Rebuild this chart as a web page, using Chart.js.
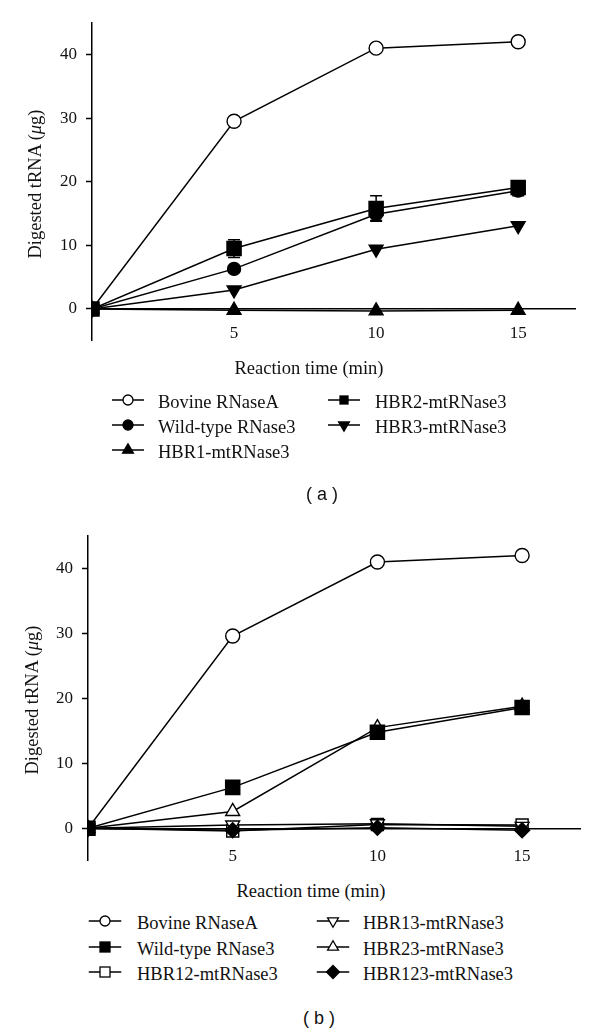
<!DOCTYPE html>
<html><head><meta charset="utf-8">
<script src="https://cdn.jsdelivr.net/npm/chart.js@4"></script>
<style>
body{margin:0;background:#fff;}
#wrap{position:relative;width:600px;height:1034px;overflow:hidden;font-family:"Liberation Serif","DejaVu Serif",serif;color:#111;background:#fff;}
canvas{position:absolute;left:0;}
.t{position:absolute;white-space:nowrap;line-height:1;transform:translate(-50%,-50%);}
.ytitle{transform:translate(-50%,-50%) rotate(-90deg);}
.leg{position:absolute;white-space:nowrap;line-height:1;font-size:18.5px;transform:translateY(-50%);}
.sym{position:absolute;transform:translate(-50%,-50%);}
.cap{font-family:"Liberation Sans","DejaVu Sans",sans-serif;font-size:18px;}
</style></head>
<body><div id="wrap">
<canvas id="ca" width="600" height="360" style="top:0"></canvas>
<canvas id="cb" width="600" height="380" style="top:500px"></canvas>
</div>
<script>
// ---- data ----
const timeMin = [0, 5, 10, 15];
const xTicks = [5, 10, 15];
const yTicks = [0, 10, 20, 30, 40];
const xTitle = 'Reaction time (min)';
const yTitleMain = 'Digested tRNA ';

// panel (a)
const aNames = ['Bovine RNaseA', 'Wild-type RNase3', 'HBR1-mtRNase3', 'HBR2-mtRNase3', 'HBR3-mtRNase3'];
const aBovine   = [0, 29.5, 41.0, 42.0];
const aWildType = [0, 6.3, 14.9, 18.6];
const aWildTypeErr = [0, 0.4, 1.0, 0.8];
const aHBR1     = [0, -0.2, -0.3, -0.2];
const aHBR2     = [0, 9.5, 15.8, 19.1];
const aHBR2Err  = [0, 1.4, 2.0, 0.6];
const aHBR3     = [0, 3.0, 9.4, 13.1];

// panel (b)
const bNames = ['Bovine RNaseA', 'Wild-type RNase3', 'HBR12-mtRNase3', 'HBR13-mtRNase3', 'HBR23-mtRNase3', 'HBR123-mtRNase3'];
const bBovine   = [0, 29.6, 41.0, 42.0];
const bWildType = [0, 6.3, 14.8, 18.6];
const bHBR12    = [0, -0.4, 0.6, 0.5];
const bHBR13    = [0, 0.5, 0.7, 0.3];
const bHBR23    = [0, 2.6, 15.5, 18.8];
const bHBR123   = [0, -0.3, 0.1, -0.3];

Chart.defaults.font.family = "'Liberation Serif', 'DejaVu Serif', serif";
Chart.defaults.color = '#111';

// ---- marker styles ----
const M = {
  openCircle:  {pointStyle:'circle', fill:'#fff', r:7, rot:0},
  fillCircle:  {pointStyle:'circle', fill:'#000', r:6.5, rot:0},
  fillTriUp:   {pointStyle:'triangle', fill:'#000', r:8, rot:0},
  fillTriDown: {pointStyle:'triangle', fill:'#000', r:8, rot:180},
  openTriUp:   {pointStyle:'triangle', fill:'#fff', r:8, rot:0},
  openTriDown: {pointStyle:'triangle', fill:'#fff', r:8, rot:180},
  fillSquare:  {pointStyle:'rect', fill:'#000', r:10, rot:0},
  openSquare:  {pointStyle:'rect', fill:'#fff', r:8.5, rot:0},
  fillDiamond: {pointStyle:'rectRot', fill:'#000', r:7.5, rot:0}
};

function ds(label, values, m, order, errs) {
  return {
    label: label,
    data: timeMin.map((t, i) => ({x: t, y: values[i]})),
    errs: errs || null,
    borderColor: '#000', borderWidth: 1.5,
    pointStyle: m.pointStyle, pointRotation: m.rot, pointRadius: m.r, pointHoverRadius: m.r,
    pointBackgroundColor: m.fill, pointBorderColor: '#000', pointBorderWidth: 1.4,
    fill: false, tension: 0, order: order
  };
}

const errorBars = {
  id: 'errorBars',
  beforeDatasetsDraw(chart) {
    const ctx = chart.ctx, ys = chart.scales.y;
    ctx.save(); ctx.strokeStyle = '#000'; ctx.lineWidth = 1.5;
    chart.data.datasets.forEach((d, di) => {
      if (!d.errs) return;
      const meta = chart.getDatasetMeta(di);
      meta.data.forEach((p, i) => {
        const e = d.errs[i]; if (!e) return;
        const v = d.data[i].y;
        const y1 = ys.getPixelForValue(v + e), y2 = ys.getPixelForValue(v - e);
        ctx.beginPath();
        ctx.moveTo(p.x, y1); ctx.lineTo(p.x, y2);
        ctx.moveTo(p.x - 6, y1); ctx.lineTo(p.x + 6, y1);
        ctx.moveTo(p.x - 6, y2); ctx.lineTo(p.x + 6, y2);
        ctx.stroke();
      });
    });
    ctx.restore();
  }
};

const tickFont = {family: "'Liberation Serif', 'DejaVu Serif', serif", size: 17};

function makeChart(id, datasets, g) {
  return new Chart(document.getElementById(id), {
    type: 'line',
    data: {datasets: datasets},
    plugins: [errorBars],
    options: {
      responsive: false, animation: false, events: [],
      layout: {padding: {top: g.padTop, right: g.padRight, bottom: g.padBottom, left: 0}},
      plugins: {legend: {display: false}, tooltip: {enabled: false}},
      scales: {
        x: {
          type: 'linear', min: 0, max: 17, position: {y: 0},
          afterBuildTicks: s => { s.ticks = xTicks.map(v => ({value: v})); },
          afterFit: s => { s.height = 0; },
          grid: {display: false, drawTicks: false},
          border: {display: true, color: '#000', width: 1.5},
          ticks: {color: '#111', padding: g.xPad, maxRotation: 0, autoSkip: false, font: tickFont}
        },
        y: {
          type: 'linear', min: -5, max: 45,
          afterBuildTicks: s => { s.ticks = yTicks.map(v => ({value: v})); },
          afterFit: s => { s.width = g.yWidth; },
          grid: {display: true, drawOnChartArea: false, drawTicks: true, tickLength: 6, tickWidth: 1.5, tickColor: '#000'},
          border: {display: true, color: '#000', width: 1.5},
          ticks: {color: '#111', padding: 9, font: tickFont}
        }
      }
    }
  });
}

makeChart('ca', [
  ds(aNames[3], aHBR2, M.fillSquare, 0, aHBR2Err),
  ds(aNames[1], aWildType, M.fillCircle, 1, aWildTypeErr),
  ds(aNames[4], aHBR3, M.fillTriDown, 2),
  ds(aNames[2], aHBR1, M.fillTriUp, 3),
  ds(aNames[0], aBovine, M.openCircle, 4)
], {padTop: 22.7, padRight: 25, padBottom: 15, yWidth: 92, xPad: 14.5});

makeChart('cb', [
  ds(bNames[1], bWildType, M.fillSquare, 0),
  ds(bNames[5], bHBR123, M.fillDiamond, 1),
  ds(bNames[3], bHBR13, M.openTriDown, 2),
  ds(bNames[2], bHBR12, M.openSquare, 3),
  ds(bNames[4], bHBR23, M.openTriUp, 4),
  ds(bNames[0], bBovine, M.openCircle, 5)
], {padTop: 36, padRight: 20, padBottom: 15.7, yWidth: 88, xPad: 18.5});

// ---- HTML text: axis titles, legends, captions ----
const wrap = document.getElementById('wrap');
function addText(html, x, y, cls, size) {
  const el = document.createElement('div');
  el.className = 't ' + (cls || '');
  el.style.left = x + 'px'; el.style.top = y + 'px';
  if (size) el.style.fontSize = size + 'px';
  el.innerHTML = html;
  wrap.appendChild(el);
}
const yTitleHtml = yTitleMain + '(<i>μ</i>g)';
addText(yTitleHtml, 35, 184, 'ytitle', 18.5);
addText(xTitle, 309, 368, '', 18.5);
addText(yTitleHtml, 32, 700, 'ytitle', 18.5);
addText(xTitle, 311, 891, '', 18.5);
addText('(&nbsp;a&nbsp;)', 322, 494, 'cap');
addText('(&nbsp;b&nbsp;)', 319, 1018, 'cap');

function symbolSvg(m, len, r) {
  const w = len, h = 20, cx = w / 2, cy = h / 2;
  let shape = '';
  const f = m.fill, st = 'stroke="#000" stroke-width="1.3"';
  if (m.pointStyle === 'circle') shape = `<circle cx="${cx}" cy="${cy}" r="${r}" fill="${f}" ${st}/>`;
  else if (m.pointStyle === 'rect') shape = `<rect x="${cx - r}" y="${cy - r}" width="${2 * r}" height="${2 * r}" fill="${f}" ${st}/>`;
  else if (m.pointStyle === 'rectRot') shape = `<polygon points="${cx},${cy - r * 1.3} ${cx + r * 1.3},${cy} ${cx},${cy + r * 1.3} ${cx - r * 1.3},${cy}" fill="${f}" ${st}/>`;
  else if (m.pointStyle === 'triangle') {
    const s = m.rot ? -1 : 1, R = r * 1.25;
    shape = `<polygon points="${cx},${cy - s * R} ${cx + R * 0.87},${cy + s * R * 0.5} ${cx - R * 0.87},${cy + s * R * 0.5}" fill="${f}" ${st}/>`;
  }
  return `<svg width="${w}" height="${h}" viewBox="0 0 ${w} ${h}"><line x1="0" y1="${cy}" x2="${w}" y2="${cy}" stroke="#000" stroke-width="1.5"/>${shape}</svg>`;
}
function addLegendItem(name, m, sx, tx, y, len, r) {
  const s = document.createElement('div');
  s.className = 'sym'; s.style.left = sx + 'px'; s.style.top = y + 'px';
  s.innerHTML = symbolSvg(m, len, r);
  wrap.appendChild(s);
  const t = document.createElement('div');
  t.className = 'leg'; t.style.left = tx + 'px'; t.style.top = y + 'px';
  t.textContent = name;
  wrap.appendChild(t);
}
// panel (a) legend
const aMarks = [M.openCircle, M.fillCircle, M.fillTriUp, M.fillSquare, M.fillTriDown];
const aRows = [402, 427, 452];
aNames.forEach((n, i) => {
  const col = i < 3 ? 0 : 1, row = i < 3 ? i : i - 3;
  const sx = col ? 344 : 128, tx = col ? 375 : 158;
  addLegendItem(n, aMarks[i], sx, tx, aRows[row], 32, aMarks[i].pointStyle === 'rect' ? 4 : 5);
});
// panel (b) legend
const bMarks = [M.openCircle, M.fillSquare, M.openSquare, M.openTriDown, M.openTriUp, M.fillDiamond];
const bRows = [923, 949, 974];
bNames.forEach((n, i) => {
  const col = i < 3 ? 0 : 1, row = i < 3 ? i : i - 3;
  const sx = col ? 333 : 105, tx = col ? 363 : 137;
  addLegendItem(n, bMarks[i], sx, tx, bRows[row], 33, 5);
});
</script>
</body></html>
